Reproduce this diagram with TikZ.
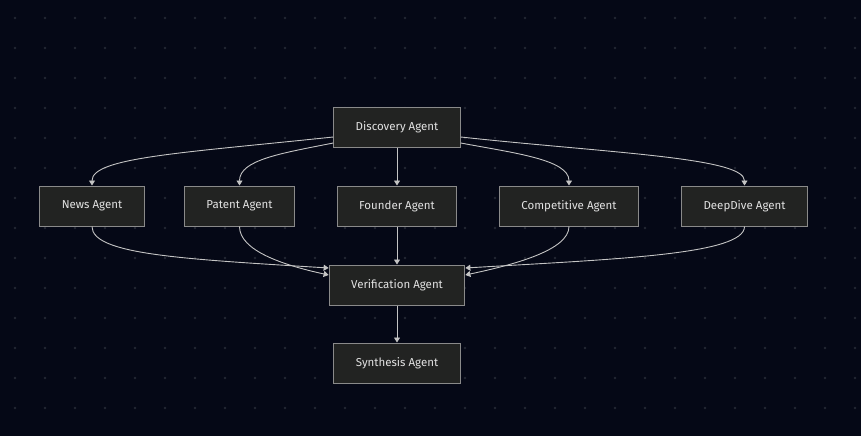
\documentclass[tikz,border=0pt]{standalone}
\usepackage{fontspec}
\setmainfont{Fira Sans}
\usetikzlibrary{arrows.meta}
\definecolor{bgcol}{HTML}{050816}
\definecolor{dotcol}{HTML}{232733}
\definecolor{boxfill}{HTML}{222322}
\definecolor{boxline}{HTML}{8A8A8A}
\definecolor{txtcol}{HTML}{E2E2E2}
\definecolor{edgecol}{HTML}{C4C4C4}
\begin{document}
\begin{tikzpicture}[x=1pt, y=-1pt,
    agent/.style={draw=boxline, fill=boxfill, line width=1pt, text=txtcol,
      minimum height=40pt, inner xsep=22pt,
      font=\fontsize{11.5}{14}\selectfont},
    flow/.style={draw=edgecol, line width=0.9pt,
      -{Triangle[width=6pt, length=5pt]}}]
  % Fondo y rejilla de puntos
  \fill[bgcol] (0,0) rectangle (861,436);
  \useasboundingbox (0,0) rectangle (861,436);
  \foreach \i in {0,...,28}
    \foreach \j in {0,...,13}
      \fill[dotcol] (15+30*\i, 18+30*\j) circle (1.4pt);

  % Agentes
  \node[agent] (disc)   at (397,127)   {Discovery Agent};
  \node[agent] (news)   at (92,206)    {News Agent};
  \node[agent] (patent) at (239.5,206) {Patent Agent};
  \node[agent] (found)  at (397,206)   {Founder Agent};
  \node[agent] (comp)   at (569,206)   {Competitive Agent};
  \node[agent] (deep)   at (744.5,206) {DeepDive Agent};
  \node[agent] (verif)  at (397,285)   {Verification Agent};
  \node[agent] (synth)  at (397,363)   {Synthesis Agent};

  % Discovery hacia los agentes
  \draw[flow] ([yshift=-10pt]disc.west) .. controls +(-152,16) and +(0,-28) .. (news.north);
  \draw[flow] ([yshift=-16pt]disc.west) .. controls +(-50,10) and +(0,-26) .. (patent.north);
  \draw[flow] (disc) -- (found);
  \draw[flow] ([yshift=-16pt]disc.east) .. controls +(53,10) and +(0,-26) .. (comp.north);
  \draw[flow] ([yshift=-10pt]disc.east) .. controls +(148,16) and +(0,-28) .. (deep.north);

  % Agentes hacia Verification
  \draw[flow] (news.south) .. controls +(0,28) and +(-146,-9) .. ([yshift=17pt]verif.west);
  \draw[flow] (patent.south) .. controls +(0,24) and +(-46,-10) .. ([yshift=10pt]verif.west);
  \draw[flow] (found) -- (verif);
  \draw[flow] (comp.south) .. controls +(0,24) and +(47,-10) .. ([yshift=10pt]verif.east);
  \draw[flow] (deep.south) .. controls +(0,28) and +(152,-9) .. ([yshift=17pt]verif.east);

  % Verification hacia Synthesis
  \draw[flow] (verif) -- (synth);
\end{tikzpicture}
\end{document}
